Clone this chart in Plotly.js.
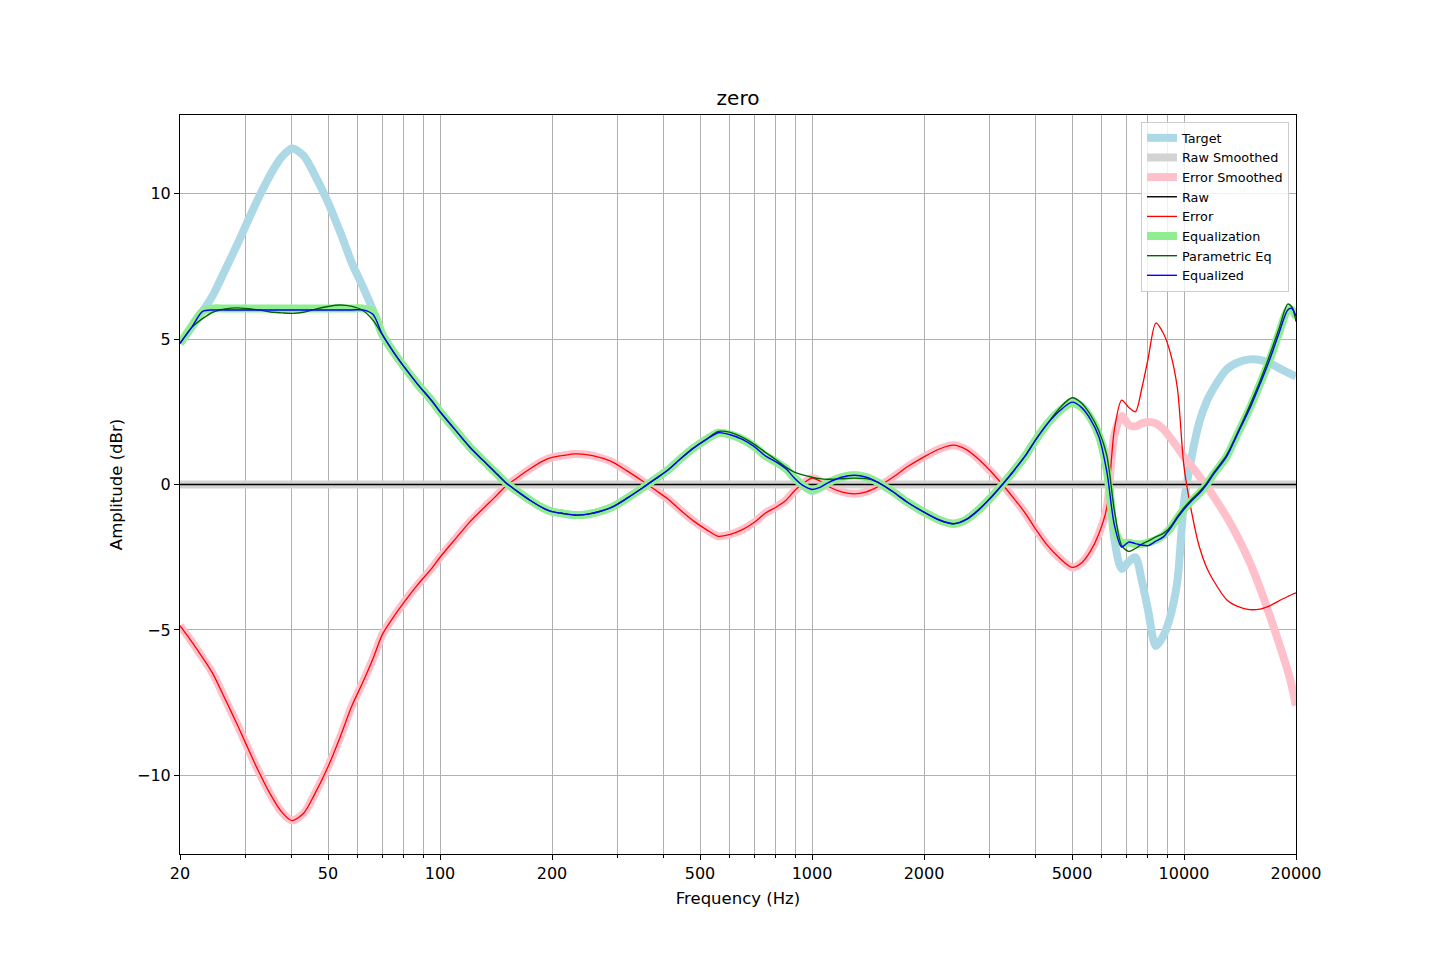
<!DOCTYPE html>
<html>
<head>
<meta charset="utf-8">
<script src="https://cdn.plot.ly/plotly-3.0.1.min.js"></script>
<style>
  html, body { margin: 0; padding: 0; background: #fff; }
  #chart { width: 1440px; height: 960px; }
</style>
</head>
<body>
<div id="chart"></div>
<script>
// Frequency grid (Hz) shared by all measured/derived curves
var FREQ = [20, 21.5, 23, 24.5, 26.5, 28.5, 30, 32.5, 35, 37.5,
  40, 43, 46, 50, 54, 58, 62, 66, 70, 75,
  80, 87, 95, 100, 110, 120, 130, 140, 150, 160,
  175, 190, 200, 215, 230, 250, 270, 290, 320, 350,
  380, 410, 440, 480, 520, 560, 600, 650, 700, 750,
  800, 850, 900, 950, 1000, 1050, 1100, 1200, 1300, 1400,
  1500, 1650, 1800, 2000, 2200, 2400, 2600, 2800, 3000, 3250,
  3500, 3750, 4000, 4300, 4650, 5000, 5300, 5600, 5900, 6200,
  6500, 6800, 7100, 7400, 7700, 8000, 8400, 8800, 9200, 9600,
  10000, 10500, 11000, 11500, 12000, 13000, 14000, 15000, 16000, 17000,
  18000, 19000, 19500, 20000];

var TARGET = [4.85, 5.4, 5.95, 6.5, 7.4, 8.25, 8.88, 9.85, 10.65, 11.25,
  11.55, 11.3, 10.65, 9.7, 8.65, 7.6, 6.8, 6.0, 5.15, 4.55,
  4.05, 3.45, 2.88, 2.5, 1.87, 1.3, 0.85, 0.45, 0.07, -0.2,
  -0.55, -0.82, -0.93, -1.0, -1.05, -1.02, -0.92, -0.78, -0.45, -0.12,
  0.2, 0.5, 0.85, 1.25, 1.55, 1.78, 1.72, 1.55, 1.3, 0.98,
  0.78, 0.55, 0.2, -0.05, -0.22, -0.12, 0.05, 0.25, 0.32, 0.25,
  0.08, -0.25, -0.6, -0.95, -1.22, -1.35, -1.2, -0.88, -0.5, 0.0,
  0.5, 1.0, 1.55, 2.1, 2.55, 2.85, 2.7, 2.3, 1.7, 0.8,
  -1.9, -2.9, -2.65, -2.5, -3.3, -4.3, -5.55, -5.2, -4.5, -3.3,
  -0.6, 1.0, 2.15, 2.85, 3.3, 3.95, 4.2, 4.3, 4.28, 4.17,
  4.0, 3.85, 3.78, 3.72];

var ERROR = [-4.85, -5.4, -5.95, -6.5, -7.4, -8.25, -8.88, -9.85, -10.65, -11.25,
  -11.55, -11.3, -10.65, -9.7, -8.65, -7.6, -6.8, -6.0, -5.15, -4.55,
  -4.05, -3.45, -2.88, -2.5, -1.87, -1.3, -0.85, -0.45, -0.07, 0.2,
  0.55, 0.82, 0.93, 1.0, 1.05, 1.02, 0.92, 0.78, 0.45, 0.12,
  -0.2, -0.5, -0.85, -1.25, -1.55, -1.78, -1.72, -1.55, -1.3, -0.98,
  -0.78, -0.55, -0.2, 0.05, 0.22, 0.12, -0.05, -0.25, -0.32, -0.25,
  -0.08, 0.25, 0.6, 0.95, 1.22, 1.35, 1.2, 0.88, 0.5, 0.0,
  -0.5, -1.0, -1.55, -2.1, -2.55, -2.85, -2.7, -2.3, -1.7, -0.8,
  1.9, 2.9, 2.65, 2.5, 3.3, 4.3, 5.55, 5.2, 4.5, 3.3,
  0.6, -1.0, -2.15, -2.85, -3.3, -3.95, -4.2, -4.3, -4.28, -4.17,
  -4.0, -3.85, -3.78, -3.72];

var ERROR_SMOOTHED = [-4.85, -5.4, -5.95, -6.5, -7.4, -8.25, -8.88, -9.85, -10.65, -11.25,
  -11.55, -11.3, -10.65, -9.7, -8.65, -7.6, -6.8, -6.0, -5.15, -4.55,
  -4.05, -3.45, -2.88, -2.5, -1.87, -1.3, -0.85, -0.45, -0.07, 0.2,
  0.55, 0.82, 0.93, 1.0, 1.05, 1.02, 0.92, 0.78, 0.45, 0.12,
  -0.2, -0.5, -0.85, -1.25, -1.55, -1.78, -1.72, -1.55, -1.3, -0.98,
  -0.78, -0.55, -0.2, 0.05, 0.22, 0.12, -0.05, -0.25, -0.32, -0.25,
  -0.08, 0.25, 0.6, 0.95, 1.22, 1.35, 1.2, 0.88, 0.5, 0.0,
  -0.5, -1.0, -1.55, -2.1, -2.55, -2.85, -2.7, -2.3, -1.7, -0.8,
  1.7, 2.35, 2.05, 2.0, 2.1, 2.15, 2.1, 1.9, 1.6, 1.28,
  0.95, 0.62, 0.28, -0.05, -0.4, -1.1, -1.85, -2.65, -3.55, -4.5,
  -5.45, -6.4, -6.95, -7.6];

var EQUALIZATION = [4.85, 5.45, 5.95, 6.05, 6.05, 6.05, 6.05, 6.05, 6.05, 6.05,
  6.05, 6.05, 6.05, 6.05, 6.05, 6.05, 6.05, 5.95, 5.15, 4.55,
  4.05, 3.45, 2.88, 2.5, 1.87, 1.3, 0.85, 0.45, 0.07, -0.2,
  -0.55, -0.82, -0.93, -1.0, -1.05, -1.02, -0.92, -0.78, -0.45, -0.12,
  0.2, 0.5, 0.85, 1.25, 1.55, 1.78, 1.72, 1.55, 1.3, 0.98,
  0.78, 0.55, 0.2, -0.05, -0.2, -0.1, 0.05, 0.25, 0.32, 0.25,
  0.08, -0.25, -0.6, -0.95, -1.22, -1.35, -1.2, -0.88, -0.5, 0.0,
  0.5, 1.0, 1.55, 2.1, 2.55, 2.8, 2.65, 2.3, 1.7, 0.5,
  -1.5, -2.0, -2.0, -2.05, -2.05, -2.0, -1.9, -1.75, -1.5, -1.15,
  -0.85, -0.55, -0.3, 0.0, 0.35, 0.95, 1.8, 2.6, 3.45, 4.3,
  5.2, 6.0, 6.0, 5.75];

var PARAMETRIC_EQ = [4.85, 5.4, 5.7, 5.92, 6.03, 6.07, 6.05, 6.0, 5.93, 5.9,
  5.88, 5.92, 6.02, 6.12, 6.17, 6.12, 5.98, 5.65, 5.15, 4.55,
  4.05, 3.45, 2.88, 2.5, 1.87, 1.3, 0.85, 0.45, 0.07, -0.2,
  -0.55, -0.82, -0.93, -1.0, -1.05, -1.02, -0.92, -0.78, -0.45, -0.12,
  0.2, 0.5, 0.85, 1.25, 1.55, 1.82, 1.8, 1.62, 1.38, 1.1,
  0.85, 0.6, 0.42, 0.32, 0.25, 0.2, 0.18, 0.2, 0.22, 0.2,
  0.08, -0.25, -0.6, -0.95, -1.22, -1.35, -1.2, -0.88, -0.5, 0.0,
  0.5, 1.0, 1.55, 2.1, 2.65, 2.98, 2.8, 2.4, 1.85, 1.0,
  -0.9, -2.1, -2.3, -2.2, -2.05, -1.95, -1.8, -1.68, -1.45, -1.1,
  -0.8, -0.5, -0.25, 0.05, 0.4, 1.0, 1.85, 2.7, 3.55, 4.45,
  5.35, 6.2, 6.1, 5.6];

var EQUALIZED = [4.85, 5.4, 5.95, 6.0, 6.0, 6.0, 6.0, 6.0, 6.0, 6.0,
  6.0, 6.0, 6.0, 6.0, 6.0, 6.0, 6.0, 5.85, 5.15, 4.55,
  4.05, 3.45, 2.88, 2.5, 1.87, 1.3, 0.85, 0.45, 0.07, -0.2,
  -0.55, -0.82, -0.93, -1.0, -1.05, -1.02, -0.92, -0.78, -0.45, -0.12,
  0.2, 0.5, 0.85, 1.25, 1.55, 1.78, 1.72, 1.55, 1.3, 0.98,
  0.78, 0.55, 0.2, -0.05, -0.17, -0.1, 0.05, 0.25, 0.32, 0.25,
  0.08, -0.25, -0.6, -0.95, -1.22, -1.35, -1.2, -0.88, -0.5, 0.0,
  0.5, 1.0, 1.55, 2.1, 2.55, 2.83, 2.65, 2.25, 1.65, 0.45,
  -1.4, -2.15, -1.98, -2.03, -2.08, -2.1, -1.95, -1.8, -1.5, -1.15,
  -0.85, -0.55, -0.3, 0.0, 0.35, 0.95, 1.8, 2.6, 3.45, 4.3,
  5.2, 6.0, 6.05, 5.78];

// Raw measurement is flat at 0 dB across the band
var RAW_FREQ = [20, 20000];
var RAW = [0, 0];
var RAW_SMOOTHED = [0, 0];

var X_TICKS = [20, 50, 100, 200, 500, 1000, 2000, 5000, 10000, 20000];
var X_TICK_TEXT = ['20', '50', '100', '200', '500', '1000', '2000', '5000', '10000', '20000'];
var X_MINOR = [30, 40, 60, 70, 80, 90, 300, 400, 600, 700, 800, 900,
  3000, 4000, 6000, 7000, 8000, 9000];

(function () {
  'use strict';

  var FONT = 'DejaVu Sans, sans-serif';
  var GRID = '#b0b0b0';

  function curve(name, x, y, color, width) {
    return {
      x: x, y: y,
      type: 'scatter',
      mode: 'lines',
      name: name,
      line: { color: color, width: width, shape: 'spline', smoothing: 0.8 },
      hoverinfo: 'skip',
    };
  }

  var traces = [
    curve('Target', FREQ, TARGET, '#add8e6', 8),
    curve('Raw Smoothed', RAW_FREQ, RAW_SMOOTHED, '#d3d3d3', 8),
    curve('Error Smoothed', FREQ, ERROR_SMOOTHED, '#ffc0cb', 8),
    curve('Raw', RAW_FREQ, RAW, '#000000', 1.4),
    curve('Error', FREQ, ERROR, '#ff0000', 1.3),
    curve('Equalization', FREQ, EQUALIZATION, '#90ee90', 8),
    curve('Parametric Eq', FREQ, PARAMETRIC_EQ, '#006400', 1.4),
    curve('Equalized', FREQ, EQUALIZED, '#0000ff', 1.4),
  ];

  var layout = {
    width: 1440,
    height: 960,
    paper_bgcolor: '#ffffff',
    plot_bgcolor: '#ffffff',
    font: { family: FONT, color: '#000000', size: 16 },
    margin: { l: 180, r: 144, t: 115, b: 106, pad: 0 },
    title: {
      text: 'zero',
      font: { family: FONT, size: 20, color: '#000000' },
      x: 0.5125, xanchor: 'center',
      y: 1 - 98 / 960, yanchor: 'middle',
    },
    xaxis: {
      type: 'log',
      range: [Math.log10(20), Math.log10(20000)],
      tickmode: 'array',
      tickvals: X_TICKS,
      ticktext: X_TICK_TEXT,
      ticks: 'outside',
      ticklen: 5,
      tickcolor: '#000000',
      tickfont: { size: 16, color: '#000000' },
      showgrid: true,
      gridcolor: GRID,
      gridwidth: 1,
      minor: {
        tickmode: 'array',
        tickvals: X_MINOR,
        ticks: 'outside',
        ticklen: 3,
        tickcolor: '#000000',
        showgrid: true,
        gridcolor: GRID,
        gridwidth: 1,
      },
      showline: true,
      mirror: true,
      linecolor: '#000000',
      linewidth: 1,
      zeroline: false,
      title: { text: 'Frequency (Hz)', standoff: 10, font: { size: 16.5, color: '#000000' } },
    },
    yaxis: {
      range: [-12.7, 12.7],
      tickmode: 'array',
      tickvals: [-10, -5, 0, 5, 10],
      ticks: 'outside',
      ticklen: 5,
      tickcolor: '#000000',
      tickfont: { size: 16, color: '#000000' },
      showgrid: true,
      gridcolor: GRID,
      gridwidth: 1,
      showline: true,
      mirror: true,
      linecolor: '#000000',
      linewidth: 1,
      zeroline: false,
      title: { text: 'Amplitude (dBr)', standoff: 10, font: { size: 16.5, color: '#000000' } },
    },
    showlegend: true,
    legend: {
      x: 0.9937, y: 0.9905, xanchor: 'right', yanchor: 'top',
      bgcolor: 'rgba(255,255,255,0.8)',
      bordercolor: '#cccccc',
      borderwidth: 1,
      font: { family: FONT, size: 12.8, color: '#000000' },
      itemwidth: 30,
      tracegroupgap: 0,
    },
  };

  Plotly.newPlot('chart', traces, layout, { displayModeBar: false, staticPlot: true });
})();
</script>
</body>
</html>
